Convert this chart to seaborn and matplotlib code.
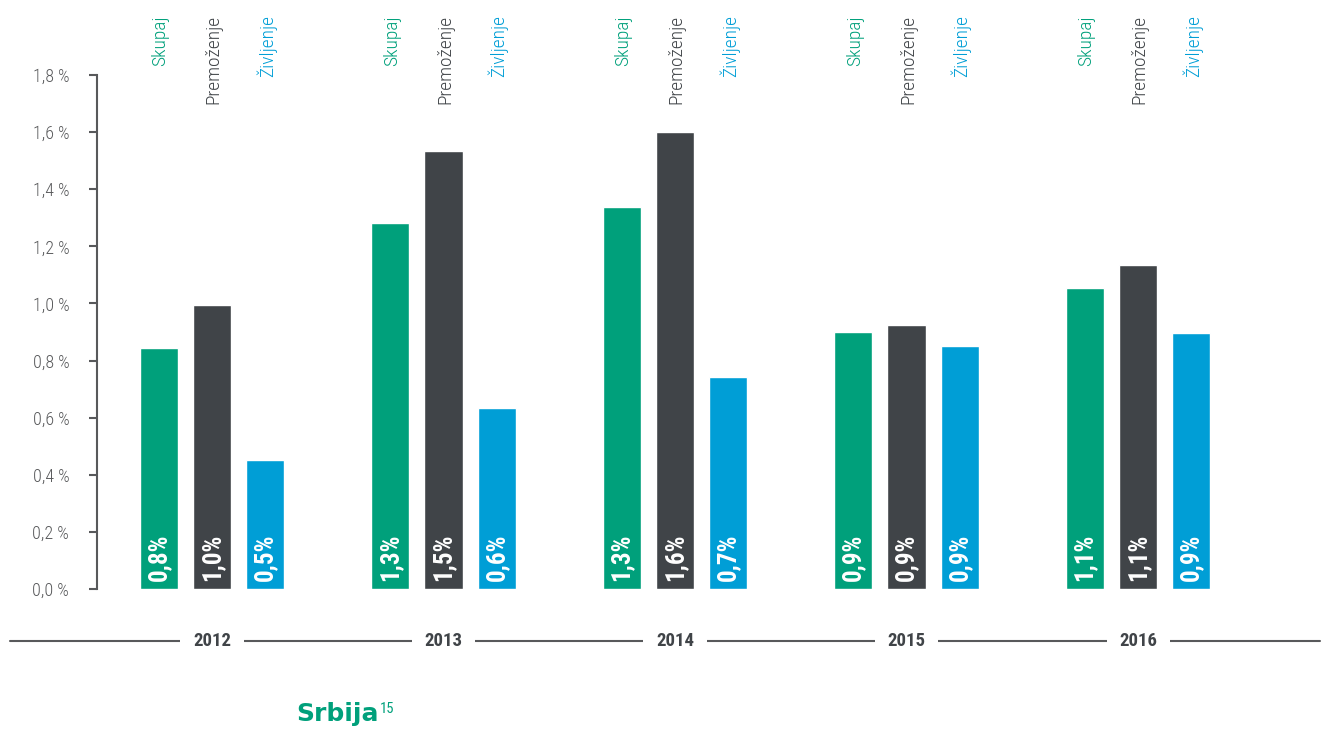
import matplotlib
matplotlib.use("Agg")
import matplotlib.pyplot as plt
import matplotlib.transforms as mtransforms
from matplotlib import font_manager
import seaborn as sns
import pandas as pd

years = ["2012", "2013", "2014", "2015", "2016"]
categories = ["Skupaj", "Premoženje", "Življenje"]
skupaj = [0.844, 1.281, 1.338, 0.900, 1.054]
premozenje = [0.994, 1.534, 1.600, 0.924, 1.134]
zivljenje = [0.452, 0.634, 0.742, 0.851, 0.896]
label_skupaj = ["0,8%", "1,3%", "1,3%", "0,9%", "1,1%"]
label_premozenje = ["1,0%", "1,5%", "1,6%", "0,9%", "1,1%"]
label_zivljenje = ["0,5%", "0,6%", "0,7%", "0,9%", "0,9%"]
y_ticks = [0.0, 0.2, 0.4, 0.6, 0.8, 1.0, 1.2, 1.4, 1.6, 1.8]
y_tick_labels = ["0,0 %", "0,2 %", "0,4 %", "0,6 %", "0,8 %", "1,0 %", "1,2 %", "1,4 %", "1,6 %", "1,8 %"]
title = "Srbija"
footnote = "15"

colors = {"Skupaj": "#00A07B", "Premoženje": "#404448", "Življenje": "#009ED6"}
GRAY = "#58595B"

df = pd.DataFrame({
    "year": years * 3,
    "cat": [c for c in categories for _ in years],
    "value": skupaj + premozenje + zivljenje,
})
value_labels = {"Skupaj": label_skupaj, "Premoženje": label_premozenje, "Življenje": label_zivljenje}

# pick a condensed font if one is installed
fl = font_manager.fontManager.ttflist
names = {f.name for f in fl}
family = "DejaVu Sans"
stretch = "normal"
for cand in ["Roboto Condensed", "Liberation Sans Narrow", "Open Sans Condensed"]:
    if cand in names:
        family = cand
        break
else:
    if any(f.name == "DejaVu Sans" and f.stretch == "condensed" for f in fl):
        stretch = "condensed"

sns.set_style("white")
plt.rcParams["font.family"] = [family, "DejaVu Sans"]
plt.rcParams["font.stretch"] = stretch

fig = plt.figure(figsize=(13.22, 7.31), dpi=100)
W, H = 1322, 731
ax = fig.add_axes([97 / W, (H - 589) / H, (1320 - 97) / W, (589 - 75) / H])

sns.barplot(data=df, x="year", y="value", hue="cat", order=years, hue_order=categories,
            palette=colors, width=0.69, gap=0.28, ax=ax, legend=False, saturation=1)

ax.set_xlim(-0.497, 4.786)
ax.set_ylim(0, 1.8)
ax.set_yticks(y_ticks)
ax.set_yticklabels(y_tick_labels, color=GRAY, fontsize=13, fontweight="light")
ax.set_xticks([])
ax.set_xlabel("")
ax.set_ylabel("")
for s in ["top", "right", "bottom"]:
    ax.spines[s].set_visible(False)
ax.spines["left"].set_color(GRAY)
ax.spines["left"].set_linewidth(1.5)
ax.tick_params(axis="y", which="both", left=True, length=6, width=1.5, color=GRAY, pad=14)

trans_top = mtransforms.blended_transform_factory(ax.transData, fig.transFigure)
for cat, cont in zip(categories, ax.containers):
    for i, bar in enumerate(cont):
        xc = bar.get_x() + bar.get_width() / 2
        ax.annotate(value_labels[cat][i], (xc, 0), xytext=(0, 6), textcoords="offset points",
                    rotation=90, ha="center", va="bottom", color="white",
                    fontsize=18, fontweight="bold")
        ax.text(xc + 0.006, 1 - 15 / H, cat, transform=trans_top, rotation=90, ha="center", va="top",
                color=colors[cat], fontsize=14, fontweight="light")

# bottom year line
ax.plot([10 / W, 1320 / W], [(H - 641) / H] * 2, transform=fig.transFigure,
        color=GRAY, linewidth=1.5, clip_on=False, zorder=1)
for i, y in enumerate(years):
    ax.text(i, (H - 641) / H, y, transform=trans_top, ha="center", va="center",
            fontsize=13.5, fontweight="bold", color="#404448", zorder=5,
            bbox=dict(facecolor="white", edgecolor="none", pad=9))

t = fig.text(296 / W, (H - 721) / H, title, color="#00A07B", fontsize=18,
             family=["DejaVu Sans"], fontweight="bold", ha="left", va="baseline")
fig.canvas.draw()
bb = t.get_window_extent()
fig.text((bb.x1 + 1) / W, (H - 713) / H, footnote, color="#00A07B", fontsize=10.5,
         ha="left", va="baseline")

fig.savefig("out.png", dpi=100)
